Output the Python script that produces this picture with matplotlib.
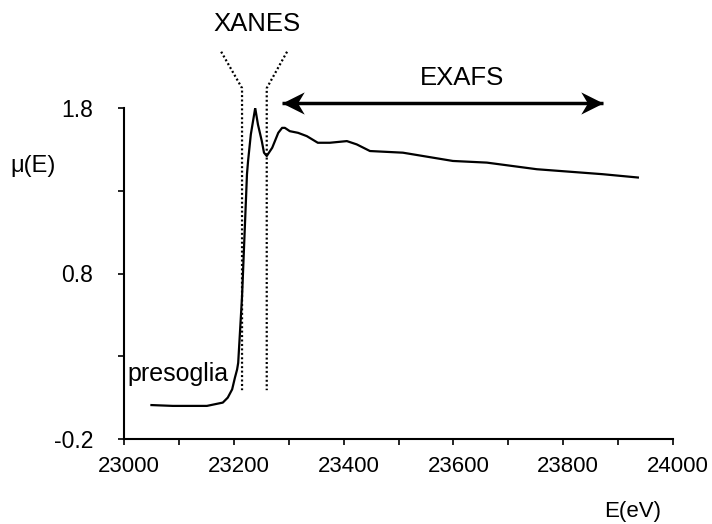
import matplotlib
matplotlib.use("Agg")
import matplotlib.pyplot as plt
from matplotlib.path import Path
from matplotlib.transforms import ScaledTranslation

plt.rcParams['font.family'] = ['Liberation Sans', 'DejaVu Sans']

# ---- data ----
energy = [23050, 23089, 23151, 23180, 23189, 23197, 23202, 23206, 23208, 23215,
          23220, 23224, 23226, 23231, 23239, 23244, 23251, 23255, 23260, 23270,
          23281, 23288, 23293, 23302, 23317, 23333, 23353, 23375, 23406, 23424,
          23448, 23508, 23599, 23661, 23752, 23872, 23936]
mu = [0.005, 0.0, 0.0, 0.02, 0.05, 0.10, 0.17, 0.22, 0.26, 0.66,
      1.07, 1.40, 1.48, 1.64, 1.80, 1.70, 1.60, 1.53, 1.51, 1.56,
      1.65, 1.68, 1.68, 1.66, 1.65, 1.63, 1.59, 1.59, 1.60, 1.58,
      1.54, 1.53, 1.48, 1.47, 1.43, 1.40, 1.38]

x_major = [23000, 23200, 23400, 23600, 23800, 24000]
x_minor = [23100, 23300, 23500, 23700, 23900]
y_major = [-0.2, 0.8, 1.8]
y_minor = [0.3, 1.3]
y_major_labels = ['-0.2', '0.8', '1.8']

W, H = 712, 524
fig = plt.figure(figsize=(W / 100, H / 100), dpi=100)
ax = fig.add_axes([124 / W, 1 - 439 / H, (673 - 124) / W, (439 - 108) / H])

ax.plot(energy, mu, color='black', lw=1.6, solid_joinstyle='round')

ax.set_xlim(23000, 24000)
ax.set_ylim(-0.2, 1.8)
for s in ['top', 'right']:
    ax.spines[s].set_visible(False)
for s in ['left', 'bottom']:
    ax.spines[s].set_linewidth(1.5)

ax.set_xticks(x_major)
ax.set_xticks(x_minor, minor=True)
ax.set_xticklabels([str(v) for v in x_major])
ax.set_yticks(y_major)
ax.set_yticks(y_minor, minor=True)
ax.set_yticklabels(y_major_labels)
ax.tick_params(axis='both', which='both', direction='out', length=4, width=1.2)
ax.tick_params(axis='x', labelsize=16, pad=8)
ax.tick_params(axis='y', labelsize=16.5, pad=18)
offset = ScaledTranslation(5 / 100, 0, fig.dpi_scale_trans)
for lab in ax.get_xticklabels():
    lab.set_transform(lab.get_transform() + offset)

# XANES dotted markers
dots = (0, (0.9, 1.1))
ax.plot([23177, 23215, 23215], [2.14, 1.92, 0.095], ls=dots, color='black',
        lw=1.6, clip_on=False)
ax.plot([23297, 23260, 23260], [2.14, 1.92, 0.095], ls=dots, color='black',
        lw=1.6, clip_on=False)
ax.text(23242, 2.306, 'XANES', ha='center', va='center', fontsize=18.5,
        clip_on=False)

# EXAFS double arrow
ax.plot([23288, 23872], [1.833, 1.833], color='black', lw=2.5, clip_on=False,
        solid_capstyle='butt')
right_head = Path([(0, 0), (-1, 0.5), (-0.7, 0), (-1, -0.5), (0, 0)],
                  [Path.MOVETO, Path.LINETO, Path.LINETO, Path.LINETO, Path.CLOSEPOLY])
left_head = Path([(0, 0), (1, 0.5), (0.7, 0), (1, -0.5), (0, 0)],
                 [Path.MOVETO, Path.LINETO, Path.LINETO, Path.LINETO, Path.CLOSEPOLY])
ax.plot([23872], [1.833], marker=right_head, markersize=32, color='black',
        markeredgewidth=0, clip_on=False)
ax.plot([23288], [1.833], marker=left_head, markersize=32, color='black',
        markeredgewidth=0, clip_on=False)
ax.text(23616, 1.98, 'EXAFS', ha='center', va='center', fontsize=18.5,
        clip_on=False)

ax.text(23007, 0.15, 'presoglia', ha='left', va='baseline', fontsize=18)

fig.text(33 / W, 1 - 166 / H, 'μ(E)', ha='center', va='center', fontsize=17)
fig.text(633 / W, 1 - 511 / H, 'E(eV)', ha='center', va='center', fontsize=16)

fig.savefig('out.png', dpi=100)
